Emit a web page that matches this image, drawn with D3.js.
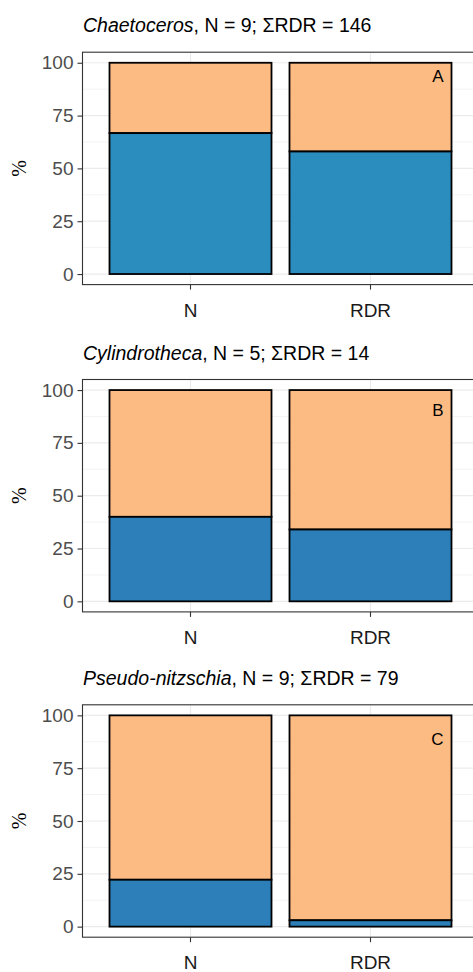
<!DOCTYPE html>
<html>
<head>
<meta charset="utf-8">
<script src="https://cdn.jsdelivr.net/npm/d3@7"></script>
<style>
  html, body { margin: 0; padding: 0; background: #fff; }
  svg { display: block; }
</style>
</head>
<body>
<svg id="chart" width="473" height="972"></svg>
<script>
// ---- data ----
const genera = ["Chaetoceros", "Cylindrotheca", "Pseudo-nitzschia"];
const nCounts = [9, 5, 9];
const rdrSums = [146, 14, 79];
const categories = ["N", "RDR"];
const bluePct = [[66.7, 58], [40, 34], [22.2, 3]];
const panelLabels = ["A", "B", "C"];
const panelLabelY = [93.7, 90.6, 88.9];
const yTicks = [0, 25, 50, 75, 100];
const yMinor = [12.5, 37.5, 62.5, 87.5];

// ---- style ----
const blueColors = ["#2b8cbe", "#2c7fb8", "#2c7fb8"];
const orange = "#fdbb84";
const panelTops = [52.2, 379.5, 704.8];
const panelH = 232.4;
const left = 82.5, right = 478.5;
const font = "'Liberation Sans', Arial, sans-serif";

const svg = d3.select("#chart");

const x = d3.scaleBand().domain(categories).range([left, right])
  .paddingInner(0.1).paddingOuter(0.15);

genera.forEach((g, i) => {
  const top = panelTops[i];
  const bottom = top + panelH;
  const y = d3.scaleLinear().domain([-5, 105]).range([bottom, top]);
  const gp = svg.append("g");

  // grid minor
  gp.selectAll(".minor").data(yMinor).join("line")
    .attr("x1", left).attr("x2", right)
    .attr("y1", d => y(d)).attr("y2", d => y(d))
    .attr("stroke", "#ebebeb").attr("stroke-width", 0.6);
  // grid major
  gp.selectAll(".major").data(yTicks).join("line")
    .attr("x1", left).attr("x2", right)
    .attr("y1", d => y(d)).attr("y2", d => y(d))
    .attr("stroke", "#ebebeb").attr("stroke-width", 1.2);
  gp.selectAll(".vmajor").data(categories).join("line")
    .attr("x1", d => x(d) + x.bandwidth() / 2).attr("x2", d => x(d) + x.bandwidth() / 2)
    .attr("y1", top).attr("y2", bottom)
    .attr("stroke", "#ebebeb").attr("stroke-width", 1.2);

  // bars
  const stacks = categories.map((c, j) => ({ c, blue: bluePct[i][j] }));
  gp.selectAll(".orange").data(stacks).join("rect")
    .attr("x", d => x(d.c)).attr("width", x.bandwidth())
    .attr("y", y(100)).attr("height", d => y(d.blue) - y(100))
    .attr("fill", orange).attr("stroke", "#000").attr("stroke-width", 1.8);
  gp.selectAll(".blue").data(stacks).join("rect")
    .attr("x", d => x(d.c)).attr("width", x.bandwidth())
    .attr("y", d => y(d.blue)).attr("height", d => y(0) - y(d.blue))
    .attr("fill", blueColors[i]).attr("stroke", "#000").attr("stroke-width", 1.8);

  // panel border
  gp.append("rect").attr("x", left).attr("y", top)
    .attr("width", right - left).attr("height", panelH)
    .attr("fill", "none").attr("stroke", "#333333").attr("stroke-width", 1.1);

  // y axis
  const ya = gp.append("g").attr("transform", `translate(${left},0)`)
    .call(d3.axisLeft(y).tickValues(yTicks).tickSize(5).tickPadding(4));
  ya.select(".domain").remove();
  ya.selectAll(".tick line").attr("stroke", "#333333").attr("stroke-width", 1.1);
  ya.selectAll(".tick text").attr("fill", "#4d4d4d")
    .style("font-family", font).style("font-size", "19px");

  // x axis
  const xa = gp.append("g").attr("transform", `translate(0,${bottom})`)
    .call(d3.axisBottom(x).tickSize(5).tickPadding(13.5));
  xa.select(".domain").remove();
  xa.selectAll(".tick line").attr("stroke", "#333333").attr("stroke-width", 1.1);
  xa.selectAll(".tick text").attr("fill", "#1a1a1a")
    .style("font-family", font).style("font-size", "19px");

  // y title
  gp.append("text")
    .attr("transform", `translate(26,${(top + bottom) / 2}) rotate(-90)`)
    .attr("text-anchor", "middle")
    .style("font-family", "'Liberation Serif', 'Times New Roman', serif")
    .style("font-size", "20px").attr("fill", "#000")
    .text("%");

  // title
  const t = gp.append("text").attr("x", 83).attr("y", top - 20)
    .style("font-family", font).style("font-size", "19.5px").attr("fill", "#000");
  t.append("tspan").style("font-style", "italic").text(g);
  t.append("tspan").text(`, N = ${nCounts[i]}; \u03A3RDR = ${rdrSums[i]}`);

  // panel label
  gp.append("text").attr("x", x("RDR") + x.bandwidth() - 8)
    .attr("y", y(panelLabelY[i])).attr("dy", "0.35em")
    .attr("text-anchor", "end")
    .style("font-family", font).style("font-size", "17px").attr("fill", "#000")
    .text(panelLabels[i]);
});
</script>
</body>
</html>
